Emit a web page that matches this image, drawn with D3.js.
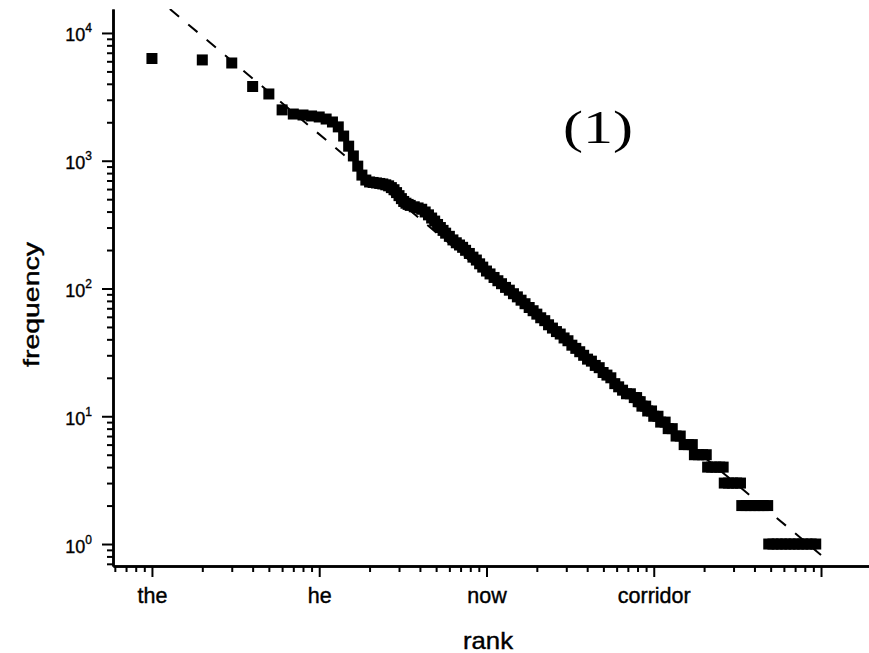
<!DOCTYPE html>
<html><head><meta charset="utf-8">
<script src="https://cdn.jsdelivr.net/npm/d3@7"></script>
<style>body{margin:0;background:#fff;} svg{display:block;}</style>
</head><body>
<svg id="chart" width="869" height="653"></svg>
<script>
// ---- data ----
const ranks = [1,2,3,4,5,6,7,8,9,10,11,12,13,14,15,16,17,18,19,
  20,21,22,23,24,25,26,27,28,29,30,31,32,33,34,35,37,39,41,43,45,47,49,51,53,55,57,60,63,66,69,72,75,79,83,87,91,95,
  100,105,111,117,123,130,137,145,153,161,170,180,190,200,211,223,235,248,262,276,291,307,324,342,361,381,402,424,447,472,498,525,554,585,617,651,687,725,765,790,807,830,
  850,895,920,970,1000,1060,1100,1170,1220,1290,1360,1440,1520,1610,1700,1750,1850,1960,2060,
  2100,2220,2350,2480,2600,2640,2800,2960,3130,3300,3360,3560,3780,4010,4250,4510,4800,
  4870,5160,5470,5800,6150,6520,6910,7330,7770,8240,8730,9300];
const freqs = [6310,6150,5820,3810,3330,2500,2320,2280,2240,2200,2120,2010,1840,1560,1300,1090,907,772,706,
  682,676,670,664,658,648,636,616,593,563,533,505,480,465,455,447,436,427,417,397,377,356,337,317,300,285,271,256,240,228,219,210,199,188,176,167,156,147,
  137,130,122,115,109,102,97,91,86,81,76,71,67,63,59,56,52,49,46,44,41,39,36,34,32,30,28,27,25,24,22,21,20,18,17,16,15,15,14,14,13,13,
  12,12,11,11,10,10,9,9,8,8,7,7,6,6,6,5,5,5,5,
  4,4,4,4,4,3,3,3,3,3,2,2,2,2,2,2,2,
  1,1,1,1,1,1,1,1,1,1,1,1];
const fitRanks = [1.28, 10000];
const fitFreqs = [15400, 0.82];
const xMajorTicks = [1, 10, 100, 1000, 10000];
const xTickLabels = ["the", "he", "now", "corridor", ""];
const yMajorTicks = [1, 10, 100, 1000, 10000];
const yTickExponents = ["0", "1", "2", "3", "4"];

const sans = "'Liberation Sans', Arial, Helvetica, sans-serif";
const svg = d3.select("#chart");
const x = d3.scaleLog().domain([0.585, 19360]).range([113, 869]);
const y = d3.scaleLog().domain([0.673, 15400]).range([566, 9]);

svg.append("defs").append("clipPath").attr("id","plotclip")
  .append("rect").attr("x",113).attr("y",9).attr("width",756).attr("height",557);

// squares
svg.append("g").selectAll("rect").data(ranks.map((r,i)=>({r, f:freqs[i]})))
  .join("rect")
  .attr("x", d => x(d.r) - 5.5).attr("y", d => y(d.f) - 5.5)
  .attr("width", 11).attr("height", 11).attr("fill", "#000");

// fit line
const line = d3.line().x(d => x(d[0])).y(d => y(d[1]));
svg.append("path").datum(fitRanks.map((r,i)=>[r, fitFreqs[i]]))
  .attr("d", line).attr("fill","none").attr("stroke","#000")
  .attr("stroke-width",2).attr("stroke-dasharray","12,12")
  .attr("clip-path","url(#plotclip)");

// axes
const xMinor = x.ticks().filter(v => !xMajorTicks.some(m => Math.abs(m - v) < 1e-9));
const yMinor = y.ticks().filter(v => !yMajorTicks.some(m => Math.abs(m - v) < 1e-9));

function styleAxis(g){
  g.select(".domain").attr("stroke-width", 2.5);
  g.selectAll(".tick line").attr("stroke-width", 2);
}

const gxMin = svg.append("g").attr("transform","translate(0,566)")
  .call(d3.axisBottom(x).tickValues(xMinor).tickSize(6).tickSizeOuter(0).tickFormat(""));
styleAxis(gxMin);
const gxMaj = svg.append("g").attr("transform","translate(0,566)")
  .call(d3.axisBottom(x).tickValues(xMajorTicks).tickSize(11).tickSizeOuter(0)
    .tickFormat((d,i) => xTickLabels[i]));
styleAxis(gxMaj);
gxMaj.selectAll(".tick text").attr("y", 37).attr("dy", null)
  .style("font-family", sans).style("font-size", "21.5px")
  .attr("fill","#000").attr("stroke","#000").attr("stroke-width",0.4);

const gyMin = svg.append("g").attr("transform","translate(113,0)")
  .call(d3.axisLeft(y).tickValues(yMinor).tickSize(6).tickSizeOuter(0).tickFormat(""));
styleAxis(gyMin);
const gyMaj = svg.append("g").attr("transform","translate(113,0)")
  .call(d3.axisLeft(y).tickValues(yMajorTicks).tickSize(11).tickSizeOuter(0).tickFormat(""));
styleAxis(gyMaj);
gyMaj.selectAll(".tick text").each(function(d, i){
  const t = d3.select(this);
  t.text(null).attr("x", -21).attr("y", 8).attr("dy", null)
    .attr("text-anchor","end").style("font-family", sans)
    .attr("fill","#000").attr("stroke","#000").attr("stroke-width",0.35);
  t.append("tspan").text("10").style("font-size","18px");
  t.append("tspan").attr("dy", -9).text(yTickExponents[i]).style("font-size","12px");
});

// axis titles
svg.append("text").attr("x", 488).attr("y", 649).attr("text-anchor","middle")
  .attr("textLength", 50).attr("lengthAdjust","spacingAndGlyphs")
  .attr("stroke","#000").attr("stroke-width",0.4)
  .style("font-family", sans).style("font-size","24px").text("rank");
svg.append("text").attr("transform","translate(38.5,304.5) rotate(-90)")
  .attr("text-anchor","middle").attr("textLength",125).attr("lengthAdjust","spacingAndGlyphs")
  .attr("stroke","#000").attr("stroke-width",0.4)
  .style("font-family", sans).style("font-size","22px").text("frequency");

// panel label
svg.append("text").attr("x", 563).attr("y", 143)
  .attr("textLength", 70).attr("lengthAdjust","spacingAndGlyphs")
  .style("font-family","'Liberation Serif','Times New Roman',serif").style("font-size","46px")
  .text("(1)");
</script>
</body></html>
